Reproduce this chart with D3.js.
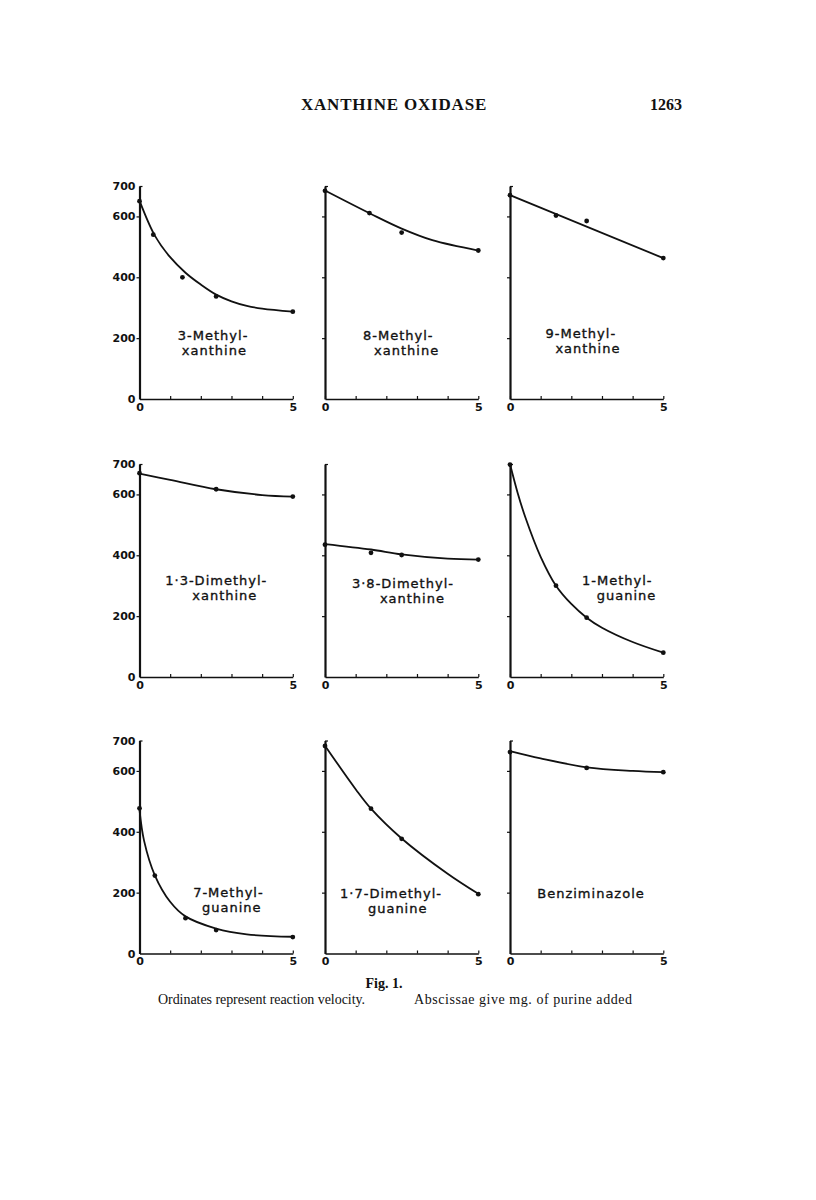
<!DOCTYPE html>
<meta charset="utf-8">
<style>
body { margin: 0; background: #fff; }
svg { display: block; background: #fff; }
.fit { fill: none; stroke: #111; stroke-width: 1.8px; }
.dot { fill: #111; }
.compound { font-family: "DejaVu Sans", sans-serif; font-size: 13px; letter-spacing: 1px; fill: #111; stroke: #111; stroke-width: 0.35px; }
.axis path, .axis line { stroke: #111; }
.axis text { fill: #111; }
.serif { font-family: "Liberation Serif", serif; fill: #111; }
</style>
<svg id="page" width="816" height="1200"></svg>
<script src="https://cdn.jsdelivr.net/npm/d3@7"></script>
<script>
// compound names, two lines each
const names = [
  ["3-Methyl-", "xanthine"], ["8-Methyl-", "xanthine"], ["9-Methyl-", "xanthine"],
  ["1\u00b73-Dimethyl-", "xanthine"], ["3\u00b78-Dimethyl-", "xanthine"], ["1-Methyl-", "guanine"],
  ["7-Methyl-", "guanine"], ["1\u00b77-Dimethyl-", "guanine"], ["Benziminazole", ""]
];

// observed points: mg purine added vs reaction velocity
const obsDose = [
  [0, 0.45, 1.4, 2.5, 5], [0, 1.45, 2.5, 5], [0, 1.5, 2.5, 5],
  [0, 2.5, 5], [0, 1.5, 2.5, 5], [0, 1.5, 2.5, 5],
  [0, 0.5, 1.5, 2.5, 5], [0, 1.5, 2.5, 5], [0, 2.5, 5]
];
const obsRate = [
  [650, 540, 400, 337, 287], [684, 611, 547, 488], [670, 603, 585, 463],
  [670, 617, 593], [435, 408, 401, 386], [698, 300, 195, 80],
  [477, 256, 116, 77, 54], [682, 476, 377, 195], [662, 610, 596]
];

// hand-drawn curves
const fitDose = [
  [0, 0.5, 1, 1.5, 2, 2.5, 3, 3.5, 4, 5], [0, 1.5, 2.5, 3.5, 5], [0, 5],
  [0, 1, 2.5, 4, 5], [0, 1.5, 2.5, 4, 5], [0, 0.25, 0.5, 1, 1.5, 2, 2.5, 3, 4, 5],
  [0, 0.15, 0.5, 1, 1.5, 2.5, 3.5, 5], [0, 1, 1.5, 2.5, 4, 5], [0, 1, 2.5, 4, 5]
];
const fitRate = [
  [652, 537, 466, 415, 376, 343, 321, 306, 297, 287], [685, 608, 560, 522, 488], [670, 463],
  [668, 648, 617, 598, 593], [437, 419, 403, 389, 386], [700, 605, 525, 395, 300, 240, 195, 162, 115, 80],
  [472, 370, 257, 170, 122, 82, 63, 55], [683, 540, 476, 378, 262, 196], [665, 641, 612, 600, 596]
];

const xTicks = [0, 1, 2, 3, 4, 5];
const yTicks = [0, 200, 400, 600, 700];

// layout
const colX = [139.5, 325, 510];
const rowZero = [399, 677, 953.5];
const plotW = 153.3, plotH = 213;
// label anchors in data units: start of line 1, start of line 2, baseline of line 1
const labelPos = [
  [1.25, 1.38, 195], [1.24, 1.6, 195], [1.16, 1.48, 202],
  [0.84, 1.72, 301], [0.88, 1.79, 292], [2.35, 2.83, 303],
  [1.75, 2.04, 185], [0.49, 1.4, 182], [0.89, 0, 184]
];

const svg = d3.select('#page');

svg.append('text')
  .attr('class', 'serif')
  .attr('x', 394).attr('y', 110)
  .attr('text-anchor', 'middle')
  .attr('font-weight', 'bold')
  .attr('font-size', 17)
  .attr('letter-spacing', 0.8)
  .text('XANTHINE OXIDASE');

svg.append('text')
  .attr('class', 'serif')
  .attr('x', 682).attr('y', 110)
  .attr('text-anchor', 'end')
  .attr('font-weight', 'bold')
  .attr('font-size', 16)
  .text('1263');

const x = d3.scaleLinear().domain([0, 5]).range([0, plotW]);
const y = d3.scaleLinear().domain([0, 700]).range([plotH, 0]);

const line = d3.line()
  .x(d => x(d[0]))
  .y(d => y(d[1]))
  .curve(d3.curveCatmullRom.alpha(0.5));

names.forEach((nm, i) => {
  const col = i % 3, row = Math.floor(i / 3);
  const g = svg.append('g')
    .attr('transform', `translate(${colX[col]},${rowZero[row] - plotH})`);

  const xa = g.append('g')
    .attr('class', 'axis')
    .attr('transform', `translate(0,${plotH})`)
    .call(d3.axisBottom(x)
      .tickValues(xTicks)
      .tickSizeInner(-3)
      .tickSizeOuter(0)
      .tickPadding(4)
      .tickFormat(d => (d === 0 || d === 5) ? d : ''))
    .attr('font-family', '"DejaVu Sans", sans-serif')
    .attr('font-size', 11)
    .attr('font-weight', 'bold');
  xa.select('.domain').attr('stroke-width', 1.6);
  xa.selectAll('.tick line').attr('stroke-width', 1.2);

  const ya = g.append('g')
    .attr('class', 'axis')
    .call(d3.axisLeft(y)
      .tickValues(yTicks)
      .tickSize(3)
      .tickSizeOuter(0)
      .tickPadding(1)
      .tickFormat(col === 0 ? d => d : ''))
    .attr('font-family', '"DejaVu Sans", sans-serif')
    .attr('font-size', 11)
    .attr('font-weight', 'bold');
  ya.select('.domain').attr('stroke-width', 2.2);
  ya.selectAll('.tick line').attr('stroke-width', 1.2);
  // top tick points inward, zero tick has none
  ya.selectAll('.tick').filter(d => d === 700).select('line').attr('x2', 3);
  ya.selectAll('.tick').filter(d => d === 0).select('line').remove();

  g.append('path')
    .datum(d3.zip(fitDose[i], fitRate[i]))
    .attr('class', 'fit')
    .attr('d', line);

  g.selectAll('circle.dot')
    .data(d3.zip(obsDose[i], obsRate[i]))
    .join('circle')
    .attr('class', 'dot')
    .attr('cx', d => x(d[0]))
    .attr('cy', d => y(d[1]))
    .attr('r', 2.4);

  const lp = labelPos[i];
  g.append('text')
    .attr('class', 'compound')
    .attr('x', x(lp[0]))
    .attr('y', y(lp[2]))
    .text(nm[0]);
  if (nm[1]) {
    g.append('text')
      .attr('class', 'compound')
      .attr('x', x(lp[1]))
      .attr('y', y(lp[2]) + 15)
      .text(nm[1]);
  }
});

svg.append('text')
  .attr('class', 'serif')
  .attr('x', 384).attr('y', 988)
  .attr('text-anchor', 'middle')
  .attr('font-weight', 'bold')
  .attr('font-size', 14)
  .text('Fig. 1.');

svg.append('text')
  .attr('class', 'serif')
  .attr('x', 158).attr('y', 1004)
  .attr('font-size', 14)
  .attr('textLength', 207)
  .attr('lengthAdjust', 'spacing')
  .text('Ordinates represent reaction velocity.');

svg.append('text')
  .attr('class', 'serif')
  .attr('x', 414).attr('y', 1004)
  .attr('font-size', 14)
  .attr('textLength', 218)
  .attr('lengthAdjust', 'spacing')
  .text('Abscissae give mg. of purine added');
</script>
